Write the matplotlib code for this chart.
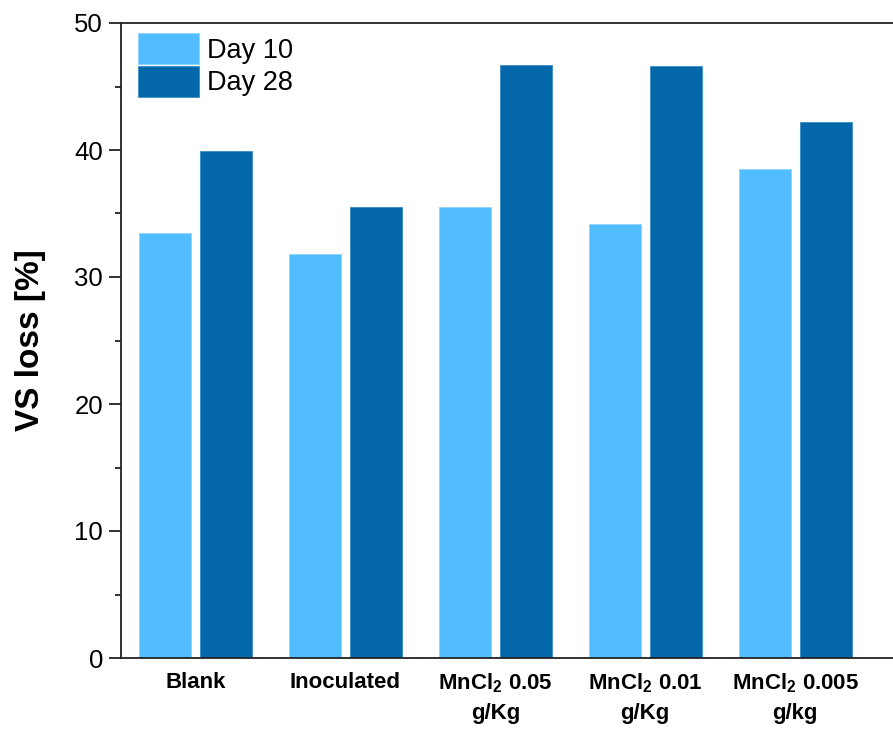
import matplotlib
matplotlib.use("Agg")
import matplotlib.pyplot as plt
import numpy as np
from matplotlib.ticker import MultipleLocator

plt.rcParams['font.family'] = ['Liberation Sans', 'DejaVu Sans']
plt.rcParams['mathtext.fontset'] = 'custom'
plt.rcParams['mathtext.rm'] = 'Liberation Sans'
plt.rcParams['mathtext.bf'] = 'Liberation Sans:bold'

categories = ['Blank', 'Inoculated', r'MnCl$_\mathbf{2}$ 0.05' + '\ng/Kg',
              r'MnCl$_\mathbf{2}$ 0.01' + '\ng/Kg', r'MnCl$_\mathbf{2}$ 0.005' + '\ng/kg']
day10 = [33.5, 31.8, 35.5, 34.2, 38.5]
day28 = [39.9, 35.5, 46.7, 46.6, 42.2]
series_labels = ['Day 10', 'Day 28']
yticks = [0, 10, 20, 30, 40, 50]

c_light = '#51BCFE'
c_dark = '#0367AA'

fig = plt.figure(figsize=(8.93, 7.29), dpi=100)
ax = fig.add_axes([121/893, 71/729, 1 - 121/893, (658-23)/729])

x = np.arange(len(categories))
w = 0.347
off = 0.203
ax.bar(x - off, day10, w, color=c_light, edgecolor='#8FD3FF', linewidth=0.6, label=series_labels[0])
ax.bar(x + off, day28, w, color=c_dark, edgecolor='#3A8CC4', linewidth=0.6, label=series_labels[1])

ax.set_xlim(-0.497, 4.653)
ax.set_ylim(0, 50)
ax.set_yticks(yticks)
ax.yaxis.set_minor_locator(MultipleLocator(5))
ax.tick_params(axis='y', which='major', direction='out', length=9, width=1.3, labelsize=18.5, pad=4, color='#222222')
ax.tick_params(axis='y', which='minor', direction='out', length=4.5, width=1.3, color='#222222')
ax.set_xticks(x)
ax.set_xticklabels(categories, fontweight='bold', fontsize=16, linespacing=1.45)
ax.tick_params(axis='x', length=0, pad=10)

for s in ['left', 'bottom', 'top']:
    ax.spines[s].set_linewidth(1.3)
    ax.spines[s].set_color('#222222')
ax.spines['right'].set_visible(False)

ax.set_ylabel('VS loss [%]', fontsize=24, fontweight='bold', labelpad=20)

ax.legend(loc='upper left', bbox_to_anchor=((138-121)/772, (658-33)/635), frameon=False, fontsize=19.5,
          handlelength=2.25, handleheight=1.4, labelspacing=0.05, handletextpad=0.3,
          borderaxespad=0, borderpad=0)

fig.savefig('out.png', dpi=100)
